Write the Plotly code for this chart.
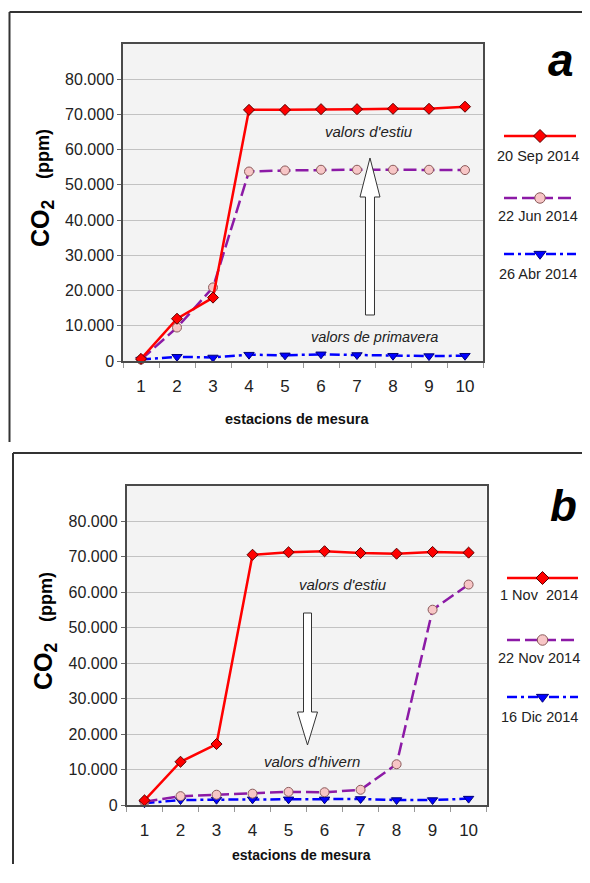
import plotly.graph_objects as go

# page has an 8px body margin; the figure is sized to leave room for it
OFF = 8
W, H = 574, 856

# ---------------- data ----------------
stations = [1, 2, 3, 4, 5, 6, 7, 8, 9, 10]

# panel a
sep_2014 = [600, 12000, 18000, 71300, 71300, 71500, 71500, 71600, 71600, 72200]
jun_2014 = [400, 9500, 20900, 53800, 54100, 54300, 54300, 54300, 54300, 54200]
abr_2014 = [400, 1200, 1000, 1800, 1600, 1900, 1700, 1500, 1400, 1500]

# panel b
nov1_2014 = [1300, 12200, 17200, 70600, 71300, 71600, 71100, 70900, 71400, 71200]
nov22_2014 = [900, 2500, 2900, 3200, 3700, 3600, 4300, 11500, 55100, 62200]
dic_2014 = [500, 1400, 1500, 1600, 1600, 1600, 1700, 1400, 1400, 1800]

y_tickvals = [0, 10000, 20000, 30000, 40000, 50000, 60000, 70000, 80000]
y_ticktext = ["0", "10.000", "20.000", "30.000", "40.000", "50.000", "60.000", "70.000", "80.000"]

labels_a = ["20 Sep 2014", "22 Jun 2014", "26 Abr 2014"]
labels_b = ["1 Nov&nbsp; 2014", "22 Nov 2014", "16 Dic 2014"]

# ---------------- styles ----------------
FONT = "Liberation Sans"
RED, PURPLE, BLUE = "#ff0000", "#8c1aa6", "#0000ff"
styles = [
    dict(color=RED, dash="solid", symbol="diamond", mfill="#ff0000", mline="#5a0000", size=8.5),
    dict(color=PURPLE, dash="13px,5px", symbol="circle", mfill="#f7c6c6", mline="#8a5a5a", size=9),
    dict(color=BLUE, dash="10px,4px,3px,4px", symbol="triangle-down", mfill="#0000ff", mline="#00007a", size=9),
]


def px(x):
    return (x - OFF) / W


def py(y):
    return 1 - (y - OFF) / H


fig = go.Figure()

panels = [
    dict(series=[sep_2014, jun_2014, abr_2014], labels=labels_a, xax="x", yax="y",
         xdom=[px(123), px(483)], ydom=[py(361), py(44)]),
    dict(series=[nov1_2014, nov22_2014, dic_2014], labels=labels_b, xax="x2", yax="y2",
         xdom=[px(126.5), px(486.6)], ydom=[py(805), py(486)]),
]

for p in panels:
    # draw blue first, red last (on top)
    for i in [2, 1, 0]:
        s = styles[i]
        fig.add_trace(go.Scatter(
            x=stations, y=p["series"][i], mode="lines+markers",
            xaxis=p["xax"], yaxis=p["yax"],
            line=dict(color=s["color"], width=2.5, dash=s["dash"]),
            marker=dict(symbol=s["symbol"], size=s["size"], color=s["mfill"],
                        line=dict(color=s["mline"], width=1)),
            showlegend=False, cliponaxis=False,
        ))

common_x = dict(
    range=[0.5, 10.5], tickmode="linear", tick0=1, dtick=1, ticks="",
    showgrid=False, zeroline=False, showline=True, mirror=True,
    linecolor="#4a4a4a", linewidth=1.5, automargin=False,
    tickfont=dict(family=FONT, size=17, color="#222"),
    ticklabelstandoff=9,
    minor=dict(tick0=0.5, dtick=1, ticks="outside", ticklen=5, tickcolor="#999", tickwidth=1),
    fixedrange=True,
)
common_y = dict(
    range=[0, 90000], tickmode="array", tickvals=y_tickvals, ticktext=y_ticktext,
    ticks="outside", ticklen=4, tickcolor="#666", tickwidth=1,
    showgrid=True, gridcolor="#c2c2c2", gridwidth=1, zeroline=False,
    showline=True, mirror=True, linecolor="#4a4a4a", linewidth=1.5, automargin=False,
    tickfont=dict(family=FONT, size=16, color="#222"),
    fixedrange=True,
)

fig.update_layout(
    width=W, height=H, margin=dict(l=0, r=0, t=0, b=0),
    paper_bgcolor="white", plot_bgcolor="rgba(0,0,0,0)",
    showlegend=False,
    xaxis=dict(common_x, domain=panels[0]["xdom"], anchor="y"),
    yaxis=dict(common_y, domain=panels[0]["ydom"], anchor="x"),
    xaxis2=dict(common_x, domain=panels[1]["xdom"], anchor="y2"),
    yaxis2=dict(common_y, domain=panels[1]["ydom"], anchor="x2"),
    # full-figure overlay in screen-pixel units for the hand-drawn legends
    xaxis3=dict(domain=[0, 1], range=[OFF, OFF + W], visible=False, fixedrange=True, anchor="y3"),
    yaxis3=dict(domain=[0, 1], range=[OFF + H, OFF], visible=False, fixedrange=True, anchor="x3"),
)

shapes = []
annotations = []


def note(text, x, y, size, angle=0, color="#222"):
    annotations.append(dict(text=text, x=px(x), y=py(y), xref="paper", yref="paper",
                            xanchor="center", yanchor="middle", showarrow=False, textangle=angle,
                            font=dict(family=FONT, size=size, color=color)))


# plot-area backgrounds
for xr, yr in [("x domain", "y domain"), ("x2 domain", "y2 domain")]:
    shapes.append(dict(type="rect", xref=xr, yref=yr, x0=0, x1=1, y0=0, y1=1,
                       fillcolor="#f3f3f3", line=dict(width=0), layer="below"))

# outer panel frames
frame = dict(color="#333", width=2)
shapes += [
    dict(type="line", xref="paper", yref="paper", x0=px(9.5), x1=px(600), y0=py(12), y1=py(12), line=frame),
    dict(type="line", xref="paper", yref="paper", x0=px(9.5), x1=px(9.5), y0=py(12), y1=py(442), line=frame),
    dict(type="line", xref="paper", yref="paper", x0=px(13), x1=px(600), y0=py(453), y1=py(453), line=frame),
    dict(type="line", xref="paper", yref="paper", x0=px(13), x1=px(13), y0=py(453), y1=py(890), line=frame),
]


def block_arrow(cx, y_tail, y_headbase, y_tip, shaft_hw, head_hw):
    pts = [(cx - shaft_hw, y_tail), (cx - shaft_hw, y_headbase), (cx - head_hw, y_headbase),
           (cx, y_tip), (cx + head_hw, y_headbase), (cx + shaft_hw, y_headbase),
           (cx + shaft_hw, y_tail)]
    path = "M " + " L ".join(f"{px(a):.5f},{py(b):.5f}" for a, b in pts) + " Z"
    return dict(type="path", xref="paper", yref="paper", path=path,
                fillcolor="white", line=dict(color="#333", width=1), layer="above")


shapes.append(block_arrow(370, 315, 197, 158, 4.5, 10))
shapes.append(block_arrow(307.5, 613, 712, 745, 4, 10))

# panel letters
note("<b><i>a</i></b>", 561, 60, 46, color="#000")
note("<b><i>b</i></b>", 563, 505, 44, color="#000")

# in-plot notes
note("<i>valors d'estiu</i>", 369, 132, 15)
note("<i>valors de primavera</i>", 374, 337, 14.5)
note("<i>valors d'estiu</i>", 343, 584, 15)
note("<i>valors d'hivern</i>", 312, 761, 15)

# axis titles
note("<b>estacions de mesura</b>", 297, 419, 14.5, color="#111")
note("<b>estacions de mesura</b>", 301, 855, 14, color="#111")
ytitle = "<b>CO<sub>2</sub>&nbsp;&nbsp;&nbsp;<span style='font-size:18px'>(ppm)</span></b>"
note(ytitle, 42, 188, 25, angle=-90, color="#000")
note(ytitle, 45, 631, 25, angle=-90, color="#000")

# hand-drawn legends
legend_layout = [
    dict(labels=labels_a, x0=504, x1=576, xt=538, line_y=[136, 198, 254], text_y=[156, 216, 274]),
    dict(labels=labels_b, x0=507, x1=578, xt=539, line_y=[578, 640, 697], text_y=[595, 658, 717]),
]
for lg in legend_layout:
    xm = (lg["x0"] + lg["x1"]) / 2
    for i, s in enumerate(styles):
        ly = lg["line_y"][i]
        fig.add_trace(go.Scatter(x=[lg["x0"], lg["x1"]], y=[ly, ly], mode="lines",
                                 xaxis="x3", yaxis="y3", cliponaxis=False, showlegend=False,
                                 line=dict(color=s["color"], width=2.5, dash=s["dash"])))
        fig.add_trace(go.Scatter(x=[xm], y=[ly], mode="markers",
                                 xaxis="x3", yaxis="y3", cliponaxis=False, showlegend=False,
                                 marker=dict(symbol=s["symbol"], size=s["size"] + 1.5, color=s["mfill"],
                                             line=dict(color=s["mline"], width=1))))
        note(lg["labels"][i], lg["xt"], lg["text_y"][i], 14.5)

fig.update_layout(shapes=shapes, annotations=annotations)
fig.write_html("out.html")
